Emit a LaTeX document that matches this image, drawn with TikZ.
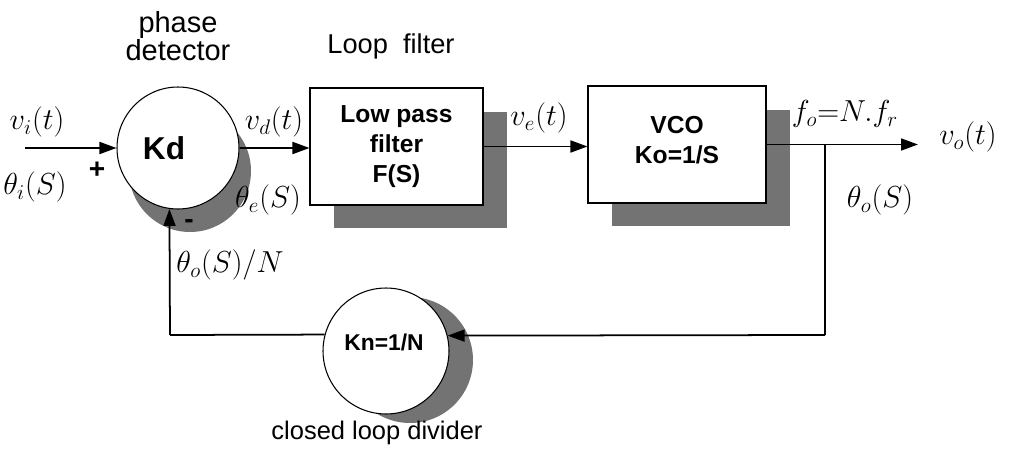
\documentclass[tikz,border=0pt]{standalone}
\usepackage{fontspec}
\setmainfont{Liberation Sans}
\usetikzlibrary{arrows.meta,calc}
\begin{document}
\begin{tikzpicture}[x=0.02cm,y=-0.02cm,
  blockbox/.style={draw,line width=0.6pt,fill=white,inner sep=0pt},
  sumcircle/.style={draw,line width=0.6pt,fill=white,circle,inner sep=0pt},
  conn/.style={line width=1pt},
  arr/.style={line width=1pt,-{Triangle[length=0.34cm,width=0.24cm]}},
  sflabel/.style={font=\fontsize{15.5}{18}\selectfont,align=center},
  blabel/.style={font=\fontsize{14}{17}\selectfont\bfseries,align=center},
  mlabel/.style={font=\fontsize{18}{21}\selectfont,inner sep=0pt}]
\useasboundingbox (0,0) rectangle (1012,449);
% shadows
\fill[black!55] (190,171) circle (61);
\fill[black!55] (410,360) circle (63);
\fill[black!55] (334,112) rectangle (507,228);
\fill[black!55] (612,110) rectangle (790,226);
% blocks
\node[sumcircle,minimum size=2.44cm] (kd) at (178,148) {};
\node[blabel,font=\fontsize{18}{21}\selectfont\bfseries] (kdt) at (164,148) {Kd};
\node[blockbox,minimum width=3.46cm,minimum height=2.34cm] (lpf) at (396.5,146.5) {};
\node[blabel] (lpft) at (396.5,146.5) {Low pass\\filter\\F(S)};
\node[blockbox,minimum width=3.56cm,minimum height=2.34cm] (vco) at (677,144.5) {};
\node[blabel] (vcot) at (677,140) {VCO\\Ko=1/S};
\node[sumcircle,minimum size=2.52cm] (kn) at (386,351) {};
\node[blabel,font=\fontsize{13}{16}\selectfont\bfseries] (knt) at (384,342) {Kn=1/N};
% coordinates
\coordinate (in) at (25,148);
\coordinate (out) at (918,144.5);
\coordinate (br) at (825,144.5);
\coordinate (brd) at (825,335);
\coordinate (fbl) at (170,335);
% connectors
\draw[arr] (in) -- (kd.west);
\draw[arr] (kd.east) -- (kd.east -| lpf.west);
\draw[arr] (lpf.east) -- (lpf.east -| vco.west);
\draw[arr] (vco.east) -- (out);
\draw[conn] (br) -- (brd);
\draw[arr] (brd) -- (kn.14.7);
\draw[conn] (kn.165.3) -- (fbl);
\draw[arr] (fbl) -- (kd.262.5);
% labels
\node[sflabel,font=\fontsize{16.5}{19}\selectfont] (pd) at (178,36) {phase\\[-3pt]detector};
\node[sflabel] (lf) at (391,46) {Loop\ \ filter};
\node[sflabel,font=\fontsize{14.5}{17}\selectfont] (cld) at (377,433) {closed loop divider};
\node[mlabel] (vi) at (37,122) {$v_i(t)$};
\node[mlabel] (thi) at (35,187) {$\theta_i(S)$};
\node[blabel,font=\fontsize{16}{19}\selectfont\bfseries] (plus) at (97,170) {+};
\node[blabel,font=\fontsize{16}{19}\selectfont\bfseries] (minus) at (189,224) {-};
\node[mlabel] (vd) at (274,122) {$v_d(t)$};
\node[mlabel] (the) at (268,200) {$\theta_e(S)$};
\node[mlabel] (ve) at (539,118) {$v_e(t)$};
\node[mlabel] (fo) at (845,114) {$f_o{=}N.f_r$};
\node[mlabel] (vo) at (968,137) {$v_o(t)$};
\node[mlabel] (tho) at (880,200) {$\theta_o(S)$};
\node[mlabel] (thn) at (230,265) {$\theta_o(S)/N$};
\end{tikzpicture}
\end{document}
